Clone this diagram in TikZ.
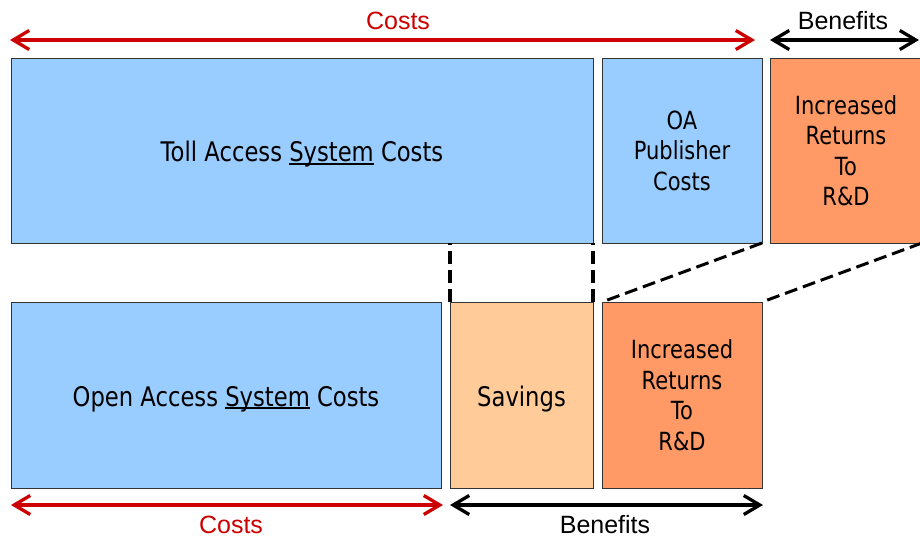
\documentclass[tikz,border=0pt]{standalone}
\usepackage{fontspec}
\setmainfont{DejaVu Sans}[FakeStretch=0.84]
\newfontfamily\labelfont{Liberation Sans}
\usepackage{tikz}
\usetikzlibrary{positioning,arrows.meta}
\definecolor{boxblue}{HTML}{99CCFF}
\definecolor{boxpeach}{HTML}{FFCC99}
\definecolor{boxorange}{HTML}{FF9966}
\definecolor{costred}{HTML}{CC0000}
\definecolor{boxline}{HTML}{333333}
\newcommand\ulword[1]{\setbox0\hbox{#1}\rlap{\rule[-3.2pt]{\wd0}{2pt}}\box0\relax}
\tikzset{
  every picture/.style={x=1pt,y=-1pt},
  barbs/.style={{Straight Barb[length=16pt,width=19pt]}-{Straight Barb[length=16pt,width=19pt]}, line width=3.3pt},
}

\begin{document}
\begin{tikzpicture}
    \tikzstyle{block}=[rectangle, draw=boxline, line width=0.8pt, outer sep=0pt,
        inner sep=0pt, text centered, align=center, minimum height=185pt]
    \tikzstyle{bigtext}=[font=\fontsize{27}{32}\selectfont, text height=22pt, text depth=0pt]
    \tikzstyle{smalltext}=[font=\fontsize{25}{30.5}\selectfont]
    \tikzstyle{dimlabel}=[font=\labelfont\fontsize{25}{30}\selectfont, inner sep=0pt]
    \tikzstyle{guide}=[draw=black, dash pattern=on 13pt off 6pt]
    \useasboundingbox (0,0) rectangle (920,538);

    % toll access row
    \node (Toll) [block, bigtext, fill=boxblue, minimum width=582pt, anchor=north west]
        at (11,58) {Toll Access \ulword{System} Costs};
    \node (OAPub) [block, smalltext, fill=boxblue, minimum width=160pt, right=9pt of Toll]
        {OA\\Publisher\\Costs};
    \node (IncTop) [block, smalltext, fill=boxorange, minimum width=152pt, right=8pt of OAPub]
        {Increased\\Returns\\To\\R\&D};

    % open access row
    \node (OpenAcc) [block, bigtext, fill=boxblue, minimum width=430pt, minimum height=186pt,
        below=59pt of Toll.south west, anchor=north west]
        {Open Access \ulword{System} Costs};
    \node (Savings) [block, bigtext, fill=boxpeach, minimum width=143pt, minimum height=186pt,
        right=9pt of OpenAcc] {Savings};
    \node (IncBot) [block, smalltext, fill=boxorange, minimum width=160pt, minimum height=186pt,
        right=9pt of Savings] {Increased\\Returns\\To\\R\&D};

    % dashed guides
    \draw[guide, line width=4pt] (Savings.north west) -- (Savings.north west |- Toll.south);
    \draw[guide, line width=4pt] (Savings.north east) -- (Toll.south east);
    \draw[guide, line width=3pt] (OAPub.south east) -- (IncBot.north west);
    \draw[guide, line width=3pt] (IncTop.south east) -- (IncBot.north east);

    % dimension arrows
    \draw[barbs, costred] ([shift={(-1pt,18pt)}]Toll.north west) -- ([shift={(-7pt,18pt)}]OAPub.north east);
    \draw[barbs, black] ([yshift=18pt]IncTop.north west) -- (919,40);
    \draw[barbs, costred] ([yshift=-17pt]OpenAcc.south west) -- ([shift={(2pt,-17pt)}]OpenAcc.south east);
    \draw[barbs, black] ([yshift=-17pt]Savings.south west) -- ([shift={(1pt,-17pt)}]IncBot.south east);

    \node (CostsTop) [dimlabel, text=costred] at (398,21) {Costs};
    \node (BenTop) [dimlabel] at (843,21) {Benefits};
    \node (CostsBot) [dimlabel, text=costred] at (231,525) {Costs};
    \node (BenBot) [dimlabel] at (605,525) {Benefits};
\end{tikzpicture}
\end{document}
